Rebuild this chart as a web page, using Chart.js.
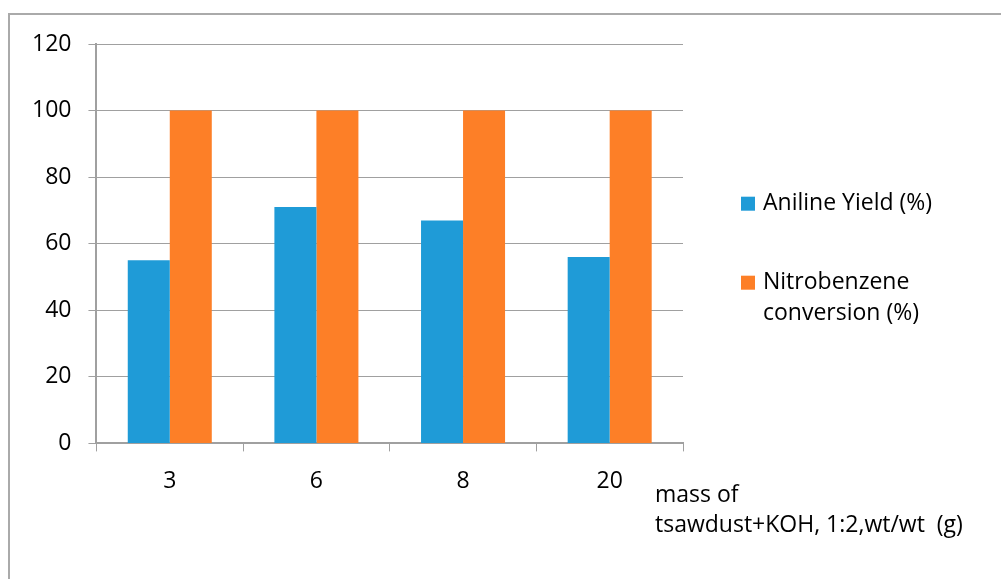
<!DOCTYPE html>
<html>
<head>
<meta charset="utf-8">
<script src="https://cdn.jsdelivr.net/npm/chart.js@4.4.1/dist/chart.umd.min.js"></script>
<style>
  html, body { margin: 0; padding: 0; background: #fff; }
  #wrap { position: relative; width: 1001px; height: 579px; }
</style>
</head>
<body>
<div id="wrap"><canvas id="myChart" width="1001" height="579"></canvas></div>
<script>
// data
const massLabels = ['3', '6', '8', '20'];
const anilineYield = [55, 71, 67, 56];
const nitroConversion = [100, 100, 100, 100];
const yTicks = [0, 20, 40, 60, 80, 100, 120];
const legendLines = [['Aniline Yield (%)'], ['Nitrobenzene', 'conversion (%)']];
const axisTitleLines = ['mass of', 'tsawdust+KOH, 1:2,wt/wt  (g)'];

const fontFamily = "'Open Sans', sans-serif";
const fontSize = 23;
const inkColor = '#000000';
const gridColor = '#a0a0a0';

// frame + legend + axis title, drawn by hand like the original Excel chart
const extrasPlugin = {
  id: 'extras',
  beforeDraw(chart) {
    const ctx = chart.ctx;
    ctx.save();
    ctx.strokeStyle = '#aaaaaa';
    ctx.lineWidth = 2;
    ctx.beginPath();
    ctx.moveTo(9, 579);
    ctx.lineTo(9, 14);
    ctx.lineTo(1001, 14);
    ctx.stroke();
    ctx.restore();
  },
  afterDraw(chart) {
    const ctx = chart.ctx;
    const area = chart.chartArea;
    const mid = (area.top + area.bottom) / 2;
    ctx.save();
    ctx.font = fontSize + 'px ' + fontFamily;
    ctx.fillStyle = inkColor;
    ctx.textBaseline = 'middle';
    ctx.textAlign = 'left';

    const itemY = [mid - 40, mid + 39];
    const boxX = area.right + 58;
    chart.data.datasets.forEach((ds, i) => {
      ctx.fillStyle = ds.backgroundColor;
      ctx.fillRect(boxX, itemY[i] - 7, 14, 14);
      ctx.fillStyle = inkColor;
      legendLines[i].forEach((line, j) => {
        ctx.fillText(line, boxX + 22, itemY[i] + j * 31);
      });
    });

    const titleX = area.right - 28;
    axisTitleLines.forEach((line, j) => {
      ctx.fillText(line, titleX, area.bottom + 52 + j * 30);
    });
    ctx.restore();
  }
};

new Chart('myChart', {
  type: 'bar',
  data: {
    labels: massLabels,
    datasets: [
      {
        label: legendLines[0].join(' '),
        data: anilineYield,
        backgroundColor: '#1f9bd7',
        categoryPercentage: 0.573,
        barPercentage: 1.0,
      },
      {
        label: legendLines[1].join(' '),
        data: nitroConversion,
        backgroundColor: '#fd7f27',
        categoryPercentage: 0.573,
        barPercentage: 1.0,
      },
    ],
  },
  options: {
    responsive: false,
    animation: false,
    layout: {
      padding: { left: 15, right: 318, top: 44, bottom: 68 },
    },
    plugins: {
      legend: { display: false },
      tooltip: { enabled: false },
    },
    scales: {
      x: {
        grid: {
          drawOnChartArea: false,
          drawTicks: true,
          tickLength: 8,
          color: gridColor,
          lineWidth: 1,
        },
        border: { color: gridColor, width: 2 },
        ticks: {
          color: inkColor,
          font: { family: fontFamily, size: fontSize },
          padding: 16,
        },
      },
      y: {
        min: 0,
        max: 120,
        afterBuildTicks: (axis) => {
          axis.ticks = yTicks.map((v) => ({ value: v }));
        },
        grid: {
          color: gridColor,
          lineWidth: 1,
          drawTicks: true,
          tickLength: 8,
        },
        border: { color: gridColor, width: 2 },
        ticks: {
          color: inkColor,
          font: { family: fontFamily, size: fontSize },
          padding: 17,
        },
      },
    },
  },
  plugins: [extrasPlugin],
});
</script>
</body>
</html>
